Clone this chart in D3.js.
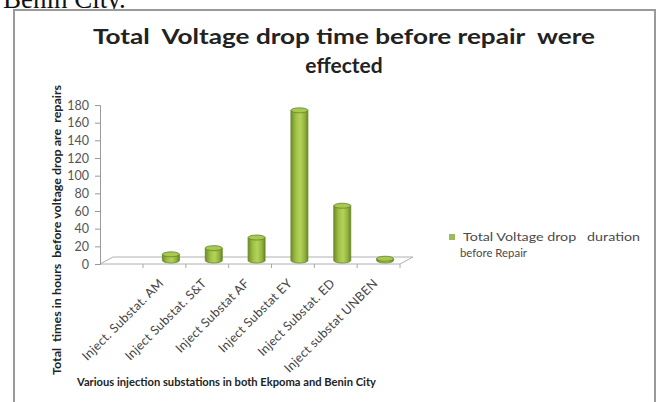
<!DOCTYPE html>
<html>
<head>
<meta charset="utf-8">
<script src="https://cdn.jsdelivr.net/npm/d3@7"></script>
<style>
  html, body { margin: 0; padding: 0; background: #fff; }
  svg { display: block; }
  text { white-space: pre; }
</style>
</head>
<body>
<svg id="chart" width="668" height="402"></svg>
<script>
// Substations and total voltage-drop duration (hours) before repair
const categories = [
  "Inject. Substat. AM",
  "Inject Substat. S&T",
  "Inject Substat AF",
  "Inject Substat EY",
  "Inject Substat. ED",
  "Inject substat UNBEN"
];
const hours = [7, 14, 26, 170, 62, 2];
const yTicks = [0, 20, 40, 60, 80, 100, 120, 140, 160, 180];
const titleLines = ["Total  Voltage drop time before repair  were", "effected"];
const yTitle = "Total  times in hours  before voltage drop are  repairs";
const xTitle = "Various injection substations in both Ekpoma and Benin City";
const legendLines = ["Total Voltage drop   duration", "before Repair"];

const svg = d3.select("#chart");

// caption text of the page above the chart
svg.append("text")
  .attr("x", 3).attr("y", 8)
  .attr("font-family", "Liberation Serif, Times New Roman, serif")
  .attr("font-size", 27).attr("fill", "#111")
  .text("Benin City.");

// chart frame
svg.append("rect")
  .attr("x", 14).attr("y", 10)
  .attr("width", 641).attr("height", 420)
  .attr("fill", "#fff").attr("stroke", "#9a9a9a").attr("stroke-width", 2);

// title
const titleFont = "Lato, 'Open Sans', sans-serif";
svg.append("text")
  .attr("x", 344).attr("y", 44)
  .attr("text-anchor", "middle")
  .attr("font-family", titleFont).attr("font-weight", 700)
  .attr("font-size", 21).attr("fill", "#222")
  .attr("textLength", 502).attr("lengthAdjust", "spacingAndGlyphs")
  .text(titleLines[0]);
svg.append("text")
  .attr("x", 344).attr("y", 73)
  .attr("text-anchor", "middle")
  .attr("font-family", titleFont).attr("font-weight", 700)
  .attr("font-size", 21).attr("fill", "#222")
  .text(titleLines[1]);

// plot geometry (3D floor with depth offset)
const axisX = 100, floorY = 264, topY = 105;
const depth = { dx: 13, dy: -7 };
const y = d3.scaleLinear().domain([0, 180]).range([floorY, topY]);
const x = d3.scaleBand().domain(categories).range([143, 400]).paddingInner(0).paddingOuter(0);

// floor
const floorRight = 400;
svg.append("path")
  .attr("d", `M${axisX},${floorY} L${axisX + depth.dx},${floorY + depth.dy} L${floorRight + depth.dx},${floorY + depth.dy} L${floorRight},${floorY} Z`)
  .attr("fill", "#fff").attr("stroke", "#b0b0b0").attr("stroke-width", 1);

// value axis
const yAxis = d3.axisLeft(y).tickValues(yTicks).tickSize(5).tickPadding(6);
const gy = svg.append("g").attr("transform", `translate(${axisX},0)`).call(yAxis);
gy.select(".domain").attr("stroke", "#999");
gy.selectAll(".tick line").attr("stroke", "#999");
gy.selectAll(".tick text")
  .attr("font-family", "Lato, sans-serif")
  .attr("font-size", 12.5).attr("fill", "#555");

// category ticks under the floor front edge
const boundaries = categories.map(c => x(c)).concat([x.range()[1]]);
svg.append("g").selectAll("line").data(boundaries).join("line")
  .attr("x1", d => d).attr("x2", d => d)
  .attr("y1", floorY).attr("y2", floorY + 4)
  .attr("stroke", "#aaa");

// cylinder gradient
const defs = svg.append("defs");
const grad = defs.append("linearGradient").attr("id", "cyl").attr("x1", "0").attr("x2", "1").attr("y1", "0").attr("y2", "0");
[[0, "#6f8e2a"], [0.3, "#a0c246"], [0.55, "#b4d25a"], [0.8, "#93b53e"], [1, "#6a8826"]]
  .forEach(([o, c]) => grad.append("stop").attr("offset", o).attr("stop-color", c));

// bars sit at mid-depth of the floor
const barW = 17;
const bx = c => x(c) + x.bandwidth() / 2 + depth.dx / 2;
const by = v => y(v) + depth.dy / 2;
const base = by(0);
const ry = 2.5;
const bars = svg.append("g").selectAll("g").data(categories.map((c, i) => ({ c, v: hours[i] }))).join("g");
bars.append("path")
  .attr("d", d => {
    const cx = bx(d.c), l = cx - barW / 2, r = cx + barW / 2, t = by(d.v);
    return `M${l},${t} L${l},${base} A${barW / 2},${ry} 0 0 0 ${r},${base} L${r},${t} Z`;
  })
  .attr("fill", "url(#cyl)").attr("stroke", "#66842a").attr("stroke-width", 0.8);
bars.append("ellipse")
  .attr("cx", d => bx(d.c)).attr("cy", d => by(d.v))
  .attr("rx", barW / 2).attr("ry", ry)
  .attr("fill", "#a8c950").attr("stroke", "#66842a").attr("stroke-width", 0.8);

// category labels, rotated
svg.append("g").selectAll("text").data(categories).join("text")
  .attr("transform", c => `translate(${x(c) + x.bandwidth() / 2},${floorY + 20}) rotate(-45)`)
  .attr("text-anchor", "end")
  .attr("font-family", "Lato, sans-serif")
  .attr("font-size", 12.5).attr("letter-spacing", 0.3).attr("fill", "#444")
  .text(c => c);

// axis titles
svg.append("text")
  .attr("transform", "translate(61,230) rotate(-90)")
  .attr("text-anchor", "middle")
  .attr("font-family", "Lato, sans-serif").attr("font-weight", 700)
  .attr("font-size", 11).attr("fill", "#222")
  .attr("textLength", 290).attr("lengthAdjust", "spacingAndGlyphs")
  .text(yTitle);
svg.append("text")
  .attr("x", 77).attr("y", 386)
  .attr("font-family", "Lato, sans-serif").attr("font-weight", 700)
  .attr("font-size", 10.5).attr("fill", "#222")
  .attr("textLength", 299).attr("lengthAdjust", "spacingAndGlyphs")
  .text(xTitle);

// legend
svg.append("rect")
  .attr("x", 449).attr("y", 234).attr("width", 6).attr("height", 6)
  .attr("fill", "#9bbb59");
svg.append("text")
  .attr("x", 463).attr("y", 241)
  .attr("font-family", "Lato, sans-serif")
  .attr("font-size", 11.5).attr("fill", "#4a4a4a")
  .attr("textLength", 177).attr("lengthAdjust", "spacingAndGlyphs")
  .text(legendLines[0]);
svg.append("text")
  .attr("x", 460).attr("y", 257)
  .attr("font-family", "Lato, sans-serif")
  .attr("font-size", 11.5).attr("fill", "#4a4a4a")
  .attr("textLength", 67).attr("lengthAdjust", "spacingAndGlyphs")
  .text(legendLines[1]);
</script>
</body>
</html>
